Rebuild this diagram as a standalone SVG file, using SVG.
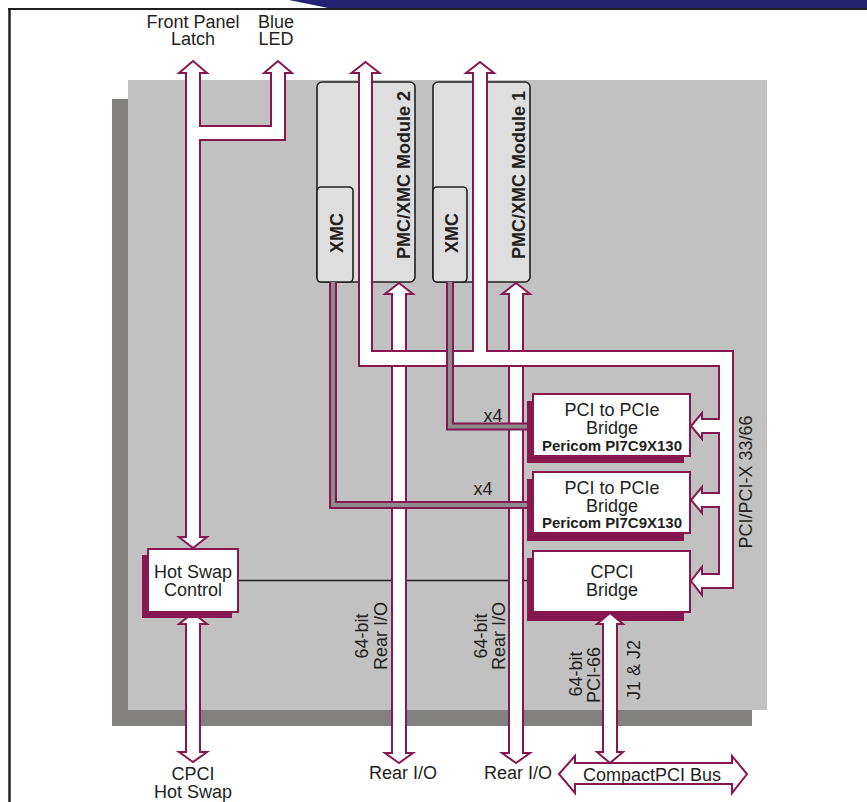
<svg xmlns="http://www.w3.org/2000/svg" width="867" height="802" viewBox="0 0 867 802">
<style>
text{font-family:"Liberation Sans",Arial,sans-serif;font-size:18px;fill:#231f20;text-anchor:middle}
.b{font-weight:bold}
.pb{font-weight:bold;font-size:15px}
.arr{fill:#fff;stroke:#87174f;stroke-width:2;stroke-linejoin:miter}
.box{fill:#fff;stroke:#87174f;stroke-width:2}
.sh{fill:#87174f}
.mod{fill:#dedede;stroke:#231f20;stroke-width:1.6}
.xo{fill:none;stroke:#87174f;stroke-width:8}
.xi{fill:none;stroke:#8c8c8c;stroke-width:4}
</style>
<rect width="867" height="802" fill="#fff"/>
<g id="frame">
<polygon points="289,0 867,0 867,8 328,8" fill="#262272"/>
<line x1="8" y1="9" x2="867" y2="9" stroke="#231f20" stroke-width="2"/>
<line x1="9.5" y1="9" x2="9.5" y2="802" stroke="#231f20" stroke-width="2.5"/>
</g>
<g id="board">
<rect x="112" y="99" width="640" height="627" fill="#838180"/>
<rect x="128" y="80" width="639" height="630" fill="#c1c1c1"/>
</g>
<g id="connectors">
<line x1="238" y1="580.5" x2="533" y2="580.5" stroke="#231f20" stroke-width="1.6"/>
</g>
<g id="module2">
<rect class="mod" x="317" y="82" width="98" height="200" rx="5"/>
<rect class="mod" x="317" y="187" width="36" height="95" rx="4"/>
<text class="b" transform="translate(410,175) rotate(-90)">PMC/XMC Module 2</text>
<text class="b" transform="translate(343,233) rotate(-90)">XMC</text>
</g>
<g id="module1">
<rect class="mod" x="433" y="82" width="97" height="200" rx="5"/>
<rect class="mod" x="433" y="187" width="34" height="95" rx="4"/>
<text class="b" transform="translate(525,175) rotate(-90)">PMC/XMC Module 1</text>
<text class="b" transform="translate(458,233) rotate(-90)">XMC</text>
</g>
<g id="connectors-arrows">
<path class="arr" d="M399,283 L413,294 L406,294 L406,753 L413,753 L399,763 L385,753 L392,753 L392,294 L385,294 Z"/>
<path class="arr" d="M516,283 L530,294 L523,294 L523,753 L530,753 L516,763 L502,753 L509,753 L509,294 L502,294 Z"/>
<path class="arr" d="M365.5,62 L379.5,73 L372,73 L372,351 L473,351 L473,73 L466,73 L480,62 L494,73 L487,73 L487,351 L733,351 L733,588 L702,588 L702,595 L691,581 L702,567 L702,574 L719,574 L719,507 L702,507 L702,513 L691,500 L702,487 L702,493 L719,493 L719,433 L702,433 L702,439 L691,426 L702,413 L702,419 L719,419 L719,366 L359,366 L359,73 L351.5,73 Z"/>
<polyline class="xo" points="450,282 450,426.5 533,426.5"/>
<polyline class="xi" points="450,282 450,426.5 533,426.5"/>
<polyline class="xo" points="333,282 333,505 533,505"/>
<polyline class="xi" points="333,282 333,505 533,505"/>
<path class="arr" d="M193,61 L207,73 L200,73 L200,126 L271,126 L271,73 L264,73 L278,61 L292,73 L285,73 L285,140 L200,140 L200,537 L207,537 L193,548 L179,537 L186,537 L186,73 L179,73 Z"/>
<path class="arr" d="M193,613 L207,624 L200,624 L200,752 L207,752 L193,762 L179,752 L186,752 L186,624 L179,624 Z"/>
</g>
<g id="bridge1">
<rect class="sh" x="527" y="401" width="157" height="62"/>
<rect class="box" x="533" y="394" width="157" height="62"/>
<text x="612" y="416">PCI to PCIe</text>
<text x="612" y="434">Bridge</text>
<text class="pb" x="612" y="451">Pericom PI7C9X130</text>
</g>
<g id="bridge2">
<rect class="sh" x="527" y="479" width="157" height="62"/>
<rect class="box" x="533" y="472" width="157" height="61"/>
<text x="612" y="494">PCI to PCIe</text>
<text x="612" y="512">Bridge</text>
<text class="pb" x="612" y="528">Pericom PI7C9X130</text>
</g>
<g id="cpcibridge">
<rect class="sh" x="527" y="558" width="157" height="63"/>
<rect class="box" x="533" y="551" width="157" height="61"/>
<text x="612" y="578">CPCI</text>
<text x="612" y="596">Bridge</text>
</g>
<g id="hotswap">
<rect class="sh" x="142" y="555" width="90" height="63"/>
<rect class="box" x="148" y="549" width="90" height="63"/>
<text x="193" y="578">Hot Swap</text>
<text x="193" y="596">Control</text>
</g>
<g id="bus-arrows">
<path class="arr" d="M610,613 L623,624 L617,624 L617,752 L623,752 L610,763 L597,752 L603,752 L603,624 L597,624 Z"/>
<path class="arr" d="M559,774 L575,756 L575,763 L732,763 L732,756 L747,774 L732,793 L732,784 L575,784 L575,793 Z"/>
</g>
<g id="labels">
<text x="193" y="28">Front Panel</text>
<text x="193" y="45">Latch</text>
<text x="276" y="28">Blue</text>
<text x="276" y="45">LED</text>
<text x="193" y="780">CPCI</text>
<text x="193" y="798">Hot Swap</text>
<text x="403" y="779">Rear I/O</text>
<text x="518" y="779">Rear I/O</text>
<text x="652" y="781">CompactPCI Bus</text>
<text x="493" y="422">x4</text>
<text x="483" y="495">x4</text>
<text transform="translate(368,636) rotate(-90)">64-bit</text>
<text transform="translate(387,636) rotate(-90)">Rear I/O</text>
<text transform="translate(487,636) rotate(-90)">64-bit</text>
<text transform="translate(505,636) rotate(-90)">Rear I/O</text>
<text transform="translate(582,674) rotate(-90)">64-bit</text>
<text transform="translate(600,675) rotate(-90)">PCI-66</text>
<text transform="translate(640,670) rotate(-90)">J1 &amp; J2</text>
<text transform="translate(752,482) rotate(-90)">PCI/PCI-X 33/66</text>
</g>
</svg>
